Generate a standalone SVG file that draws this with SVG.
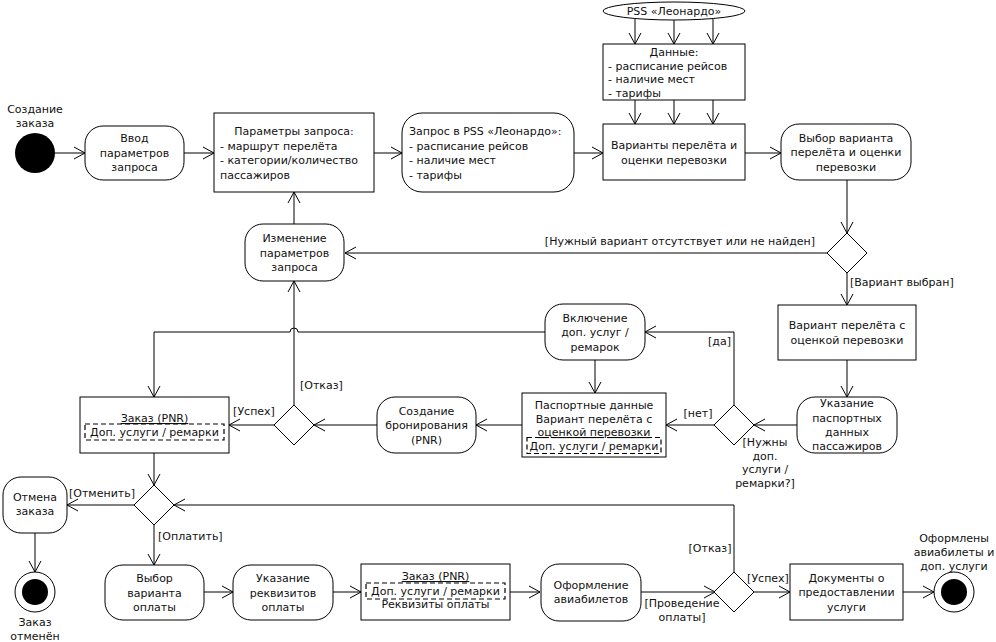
<svg xmlns="http://www.w3.org/2000/svg" width="996" height="642" viewBox="0 0 996 642">
<style>
text{font-family:"DejaVu Sans",Verdana,sans-serif;font-size:11px;fill:#111}
.c{text-anchor:middle}
.e{text-anchor:end}
.b{fill:#fff;stroke:#000;stroke-width:1}
.d{fill:none;stroke:#000;stroke-width:1.2;stroke-dasharray:5,3}
.u{text-decoration:underline}
.l{fill:none;stroke:#000;stroke-width:1;marker-end:url(#a)}
</style>
<defs>
<marker id="a" viewBox="-12 -7 13 14" refX="0" refY="0" markerWidth="13" markerHeight="14" markerUnits="userSpaceOnUse" orient="auto"><path d="M-11,-6 L0,0 L-11,6" fill="none" stroke="#000" stroke-width="1"/></marker>
</defs>
<rect width="996" height="642" fill="#fff"/>

<g id="connectors">
<path class="l" d="M55,153H85"/>
<path class="l" d="M184,153H214"/>
<path class="l" d="M374,153H402"/>
<path class="l" d="M574,153H603"/>
<path class="l" d="M635,18.5V44"/>
<path class="l" d="M674,20V44"/>
<path class="l" d="M713,18.5V44"/>
<path class="l" d="M635,100V124"/>
<path class="l" d="M674,100V124"/>
<path class="l" d="M713,100V124"/>
<path class="l" d="M745,153H781"/>
<path class="l" d="M847,180V233"/>
<path class="l" d="M827,253H345"/>
<path class="l" d="M294,224V192"/>
<path class="l" d="M847,273V305"/>
<path class="l" d="M847,360V397"/>
<path class="l" d="M797,425H754"/>
<path class="l" d="M714,425H666"/>
<path class="l" d="M734,405V332H645"/>
<path class="l" d="M595,360V393"/>
<path class="l" d="M522,425H476"/>
<path class="l" d="M377,425H314"/>
<path class="l" d="M274,425H229"/>
<path class="l" d="M294,405V281"/>
<path class="l" d="M545,332H298A4,4 0 0 0 290,332H154V397"/>
<path class="l" d="M154,453V485"/>
<path class="l" d="M134,505H67"/>
<path class="l" d="M35,533V572"/>
<path class="l" d="M734,572V505H174"/>
<path class="l" d="M154,525V565"/>
<path class="l" d="M204,592H233"/>
<path class="l" d="M333,592H361"/>
<path class="l" d="M510,592H540"/>
<path class="l" d="M641,592H715"/>
<path class="l" d="M754,592H790"/>
<path class="l" d="M903,592H934"/>
</g>

<g id="labels">
<text class="e" x="815" y="245">[Нужный вариант отсутствует или не найден]</text>
<text x="850" y="286">[Вариант выбран]</text>
<text class="c" x="765" y="446">[Нужны</text>
<text class="c" x="765" y="460">доп.</text>
<text class="c" x="765" y="473">услуги /</text>
<text class="c" x="765" y="487">ремарки?]</text>
<text class="c" x="698" y="417">[нет]</text>
<text class="e" x="731" y="345">[да]</text>
<text x="300" y="389">[Отказ]</text>
<text class="c" x="254" y="415">[Успех]</text>
<text class="c" x="102" y="497">[Отменить]</text>
<text x="158" y="540">[Оплатить]</text>
<text class="c" x="710" y="552">[Отказ]</text>
<text class="c" x="682" y="607">[Проведение</text>
<text class="c" x="682" y="621">оплаты]</text>
<text class="c" x="768" y="582">[Успех]</text>
</g>

<g id="start">
<circle cx="35" cy="153" r="20" fill="#000"/>
<text class="c" x="35" y="113">Создание</text>
<text class="c" x="35" y="127">заказа</text>
</g>

<g id="vvod">
<rect class="b" x="85" y="126" width="99" height="54" rx="18"/>
<text class="c" x="134.5" y="142">Ввод</text>
<text class="c" x="134.5" y="156.5">параметров</text>
<text class="c" x="134.5" y="171">запроса</text>
</g>

<g id="params">
<rect class="b" x="214" y="113" width="160" height="79"/>
<text class="c" x="294" y="135">Параметры запроса:</text>
<text x="220" y="149.5">- маршрут перелёта</text>
<text x="220" y="164">- категории/количество</text>
<text x="220" y="178.5">пассажиров</text>
</g>

<g id="zapros">
<rect class="b" x="402" y="113" width="172" height="79" rx="20"/>
<text x="409" y="135">Запрос в PSS «Леонардо»:</text>
<text x="409" y="149.5">- расписание рейсов</text>
<text x="409" y="164">- наличие мест</text>
<text x="409" y="178.5">- тарифы</text>
</g>

<g id="pss">
<ellipse class="b" cx="674" cy="11" rx="71" ry="9"/>
<text class="c" x="674" y="15">PSS «Леонардо»</text>
</g>

<g id="dannye">
<rect class="b" x="603" y="44" width="142" height="56"/>
<text class="c" x="674" y="56">Данные:</text>
<text x="608" y="69.5">- расписание рейсов</text>
<text x="608" y="83">- наличие мест</text>
<text x="608" y="96.5">- тарифы</text>
</g>

<g id="varianty">
<rect class="b" x="603" y="124" width="142" height="56"/>
<text class="c" x="674" y="149">Варианты перелёта и</text>
<text class="c" x="674" y="163.5">оценки перевозки</text>
</g>

<g id="vybor">
<rect class="b" x="781" y="124" width="130" height="56" rx="18"/>
<text class="c" x="846" y="141.5">Выбор варианта</text>
<text class="c" x="846" y="156">перелёта и оценки</text>
<text class="c" x="846" y="170.5">перевозки</text>
</g>

<g id="dec1"><path class="b" d="M847,233L867,253L847,273L827,253Z"/></g>

<g id="izmenenie">
<rect class="b" x="245" y="224" width="99" height="57" rx="18"/>
<text class="c" x="294.5" y="242">Изменение</text>
<text class="c" x="294.5" y="256.5">параметров</text>
<text class="c" x="294.5" y="271">запроса</text>
</g>

<g id="variant">
<rect class="b" x="778" y="305" width="138" height="55"/>
<text class="c" x="847" y="329">Вариант перелёта с</text>
<text class="c" x="847" y="343.5">оценкой перевозки</text>
</g>

<g id="ukazanie">
<rect class="b" x="797" y="397" width="100" height="56" rx="18"/>
<text class="c" x="847" y="407">Указание</text>
<text class="c" x="847" y="421.5">паспортных</text>
<text class="c" x="847" y="435.5">данных</text>
<text class="c" x="847" y="449.5">пассажиров</text>
</g>

<g id="dec2"><path class="b" d="M734,405L754,425L734,445L714,425Z"/></g>

<g id="vklyuchenie">
<rect class="b" x="545" y="304" width="100" height="56" rx="18"/>
<text class="c" x="595" y="321.5">Включение</text>
<text class="c" x="595" y="336">доп. услуг /</text>
<text class="c" x="595" y="350.5">ремарок</text>
</g>

<g id="pasport">
<rect class="b" x="522" y="393" width="144" height="64"/>
<text class="c" x="594" y="409">Паспортные данные</text>
<text class="c" x="594" y="423">Вариант перелёта с</text>
<text class="c u" x="594" y="436">оценкой перевозки</text>
<rect class="d" x="527" y="437.5" width="134" height="16"/>
<text class="c" x="594" y="449.5">Доп. услуги / ремарки</text>
</g>

<g id="sozdanie">
<rect class="b" x="377" y="397" width="99" height="56" rx="18"/>
<text class="c" x="426.5" y="414.5">Создание</text>
<text class="c" x="426.5" y="429">бронирования</text>
<text class="c" x="426.5" y="443.5">(PNR)</text>
</g>

<g id="dec3"><path class="b" d="M294,405L314,425L294,445L274,425Z"/></g>

<g id="zakaz1">
<rect class="b" x="80" y="397" width="149" height="56"/>
<text class="c u" x="154.5" y="422">Заказ (PNR)</text>
<rect class="d" x="85" y="424" width="139" height="16"/>
<text class="c" x="154.5" y="436">Доп. услуги / ремарки</text>
</g>

<g id="dec4"><path class="b" d="M154,485L174,505L154,525L134,505Z"/></g>

<g id="otmena">
<rect class="b" x="3" y="477" width="64" height="56" rx="18"/>
<text class="c" x="35" y="501">Отмена</text>
<text class="c" x="35" y="515">заказа</text>
</g>

<g id="end1">
<circle class="b" cx="35" cy="592" r="20"/>
<circle cx="35" cy="592" r="13" fill="#000"/>
<text class="c" x="35" y="626">Заказ</text>
<text class="c" x="35" y="640">отменён</text>
</g>

<g id="vyborOplaty">
<rect class="b" x="105" y="565" width="99" height="55" rx="18"/>
<text class="c" x="154.5" y="582">Выбор</text>
<text class="c" x="154.5" y="596.5">варианта</text>
<text class="c" x="154.5" y="611">оплаты</text>
</g>

<g id="rekvizity">
<rect class="b" x="233" y="565" width="100" height="55" rx="18"/>
<text class="c" x="283" y="582">Указание</text>
<text class="c" x="283" y="596.5">реквизитов</text>
<text class="c" x="283" y="611">оплаты</text>
</g>

<g id="zakaz2">
<rect class="b" x="361" y="564" width="149" height="56"/>
<text class="c u" x="435.5" y="580">Заказ (PNR)</text>
<rect class="d" x="366" y="583" width="139" height="16"/>
<text class="c" x="435.5" y="595">Доп. услуги / ремарки</text>
<text class="c" x="435.5" y="608">Реквизиты оплаты</text>
</g>

<g id="oformlenie">
<rect class="b" x="541" y="564" width="100" height="57" rx="18"/>
<text class="c" x="591" y="588.5">Оформление</text>
<text class="c" x="591" y="603">авиабилетов</text>
</g>

<g id="dec5"><path class="b" d="M734,572L754,592L734,612L714,592Z"/></g>

<g id="dokumenty">
<rect class="b" x="790" y="564" width="113" height="56"/>
<text class="c" x="846.5" y="581.5">Документы о</text>
<text class="c" x="846.5" y="596">предоставлении</text>
<text class="c" x="846.5" y="610.5">услуги</text>
</g>

<g id="end2">
<circle class="b" cx="954" cy="592" r="20"/>
<circle cx="954" cy="592" r="13" fill="#000"/>
<text class="c" x="954" y="542">Оформлены</text>
<text class="c" x="954" y="556">авиабилеты и</text>
<text class="c" x="954" y="570">доп. услуги</text>
</g>
</svg>
